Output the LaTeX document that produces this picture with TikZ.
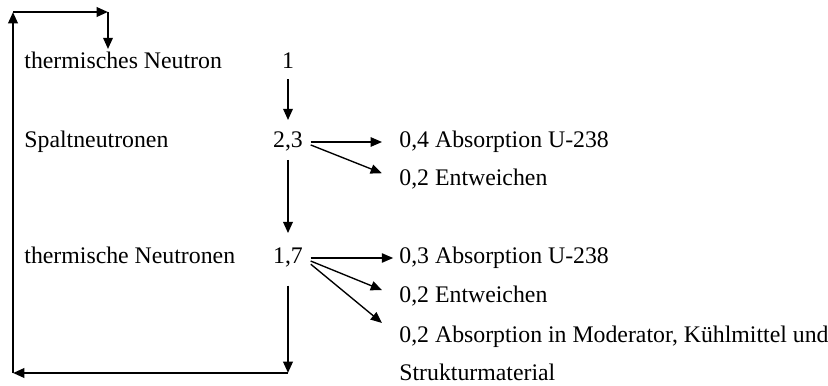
\documentclass[tikz,border=0pt]{standalone}
\usepackage{fontspec}
\setmainfont{Liberation Serif}
\usetikzlibrary{arrows.meta}
\begin{document}
\begin{tikzpicture}[x=0.5128pt,y=-0.5128pt,
                    font=\fontsize{12.2}{14}\selectfont,
                    txt node/.style={inner sep=0pt,text height=1.5ex,text depth=.25ex,anchor=west},
                    num node/.style={inner sep=0pt,text height=1.5ex,text depth=.25ex},
                    arr/.style={line width=1.2pt,-{Triangle[length=5.8pt,width=4.8pt]}},
                    thin arr/.style={line width=0.7pt,-{Triangle[length=5.8pt,width=4.8pt]}}]
             \useasboundingbox (0,0) rectangle (828,386);
             % left column
             \node[txt node] (N) at (24,63) {thermisches Neutron};
             \node[txt node] (S) at (24,142) {Spaltneutronen};
             \node[txt node] (T) at (24,258) {thermische Neutronen};
             % numbers
             \node[num node] (1) at (288,63) {1};
             \node[num node] (23) at (288,142) {2,3};
             \node[num node] (17) at (288,258) {1,7};
             % losses
             \node[txt node] (a4) at (399,142) {0,4 Absorption U-238};
             \node[txt node] (e2) at (399,180) {0,2 Entweichen};
             \node[txt node] (a3) at (399,258) {0,3 Absorption U-238};
             \node[txt node] (e3) at (399,297) {0,2 Entweichen};
             \node[txt node] (m2) at (399,337) {0,2 Absorption in Moderator, Kühlmittel und};
             \node[txt node] (m2b) at (399,375) {Strukturmaterial};
             % loop corners
             \coordinate (c1) at (288,373);
             \coordinate (c2) at (13,373);
             \coordinate (c3) at (13,12);
             \coordinate (c4) at (108,12);
             \path%
               (1) edge[arr,shorten <=4pt,shorten >=7pt] (23)
               (23) edge[arr,shorten <=5pt,shorten >=8.5pt] (17)
               (23.east) edge[thin arr,shorten <=3.8pt,shorten >=8.7pt] (a4.west)
               (23.east) edge[thin arr,shorten <=4.1pt,shorten >=9.4pt] (e2.west)
               (17.east) edge[thin arr,shorten <=3.8pt,shorten >=3pt] (a3.west)
               (17.east) edge[thin arr,shorten <=4.1pt,shorten >=9.4pt] (e3.west)
               (17.east) edge[thin arr,shorten <=5pt,shorten >=11.3pt] (m2.west);
             % back to the start
             \draw[arr,shorten <=10pt] (17) -- (c1);
             \draw[arr] (c1) -- (c2);
             \draw[arr] (c2) -- (c3);
             \draw[arr] (c3) -- (c4);
             \draw[arr,shorten >=2.9pt] (c4) -- (c4 |- N.north);
         \end{tikzpicture}
\end{document}
